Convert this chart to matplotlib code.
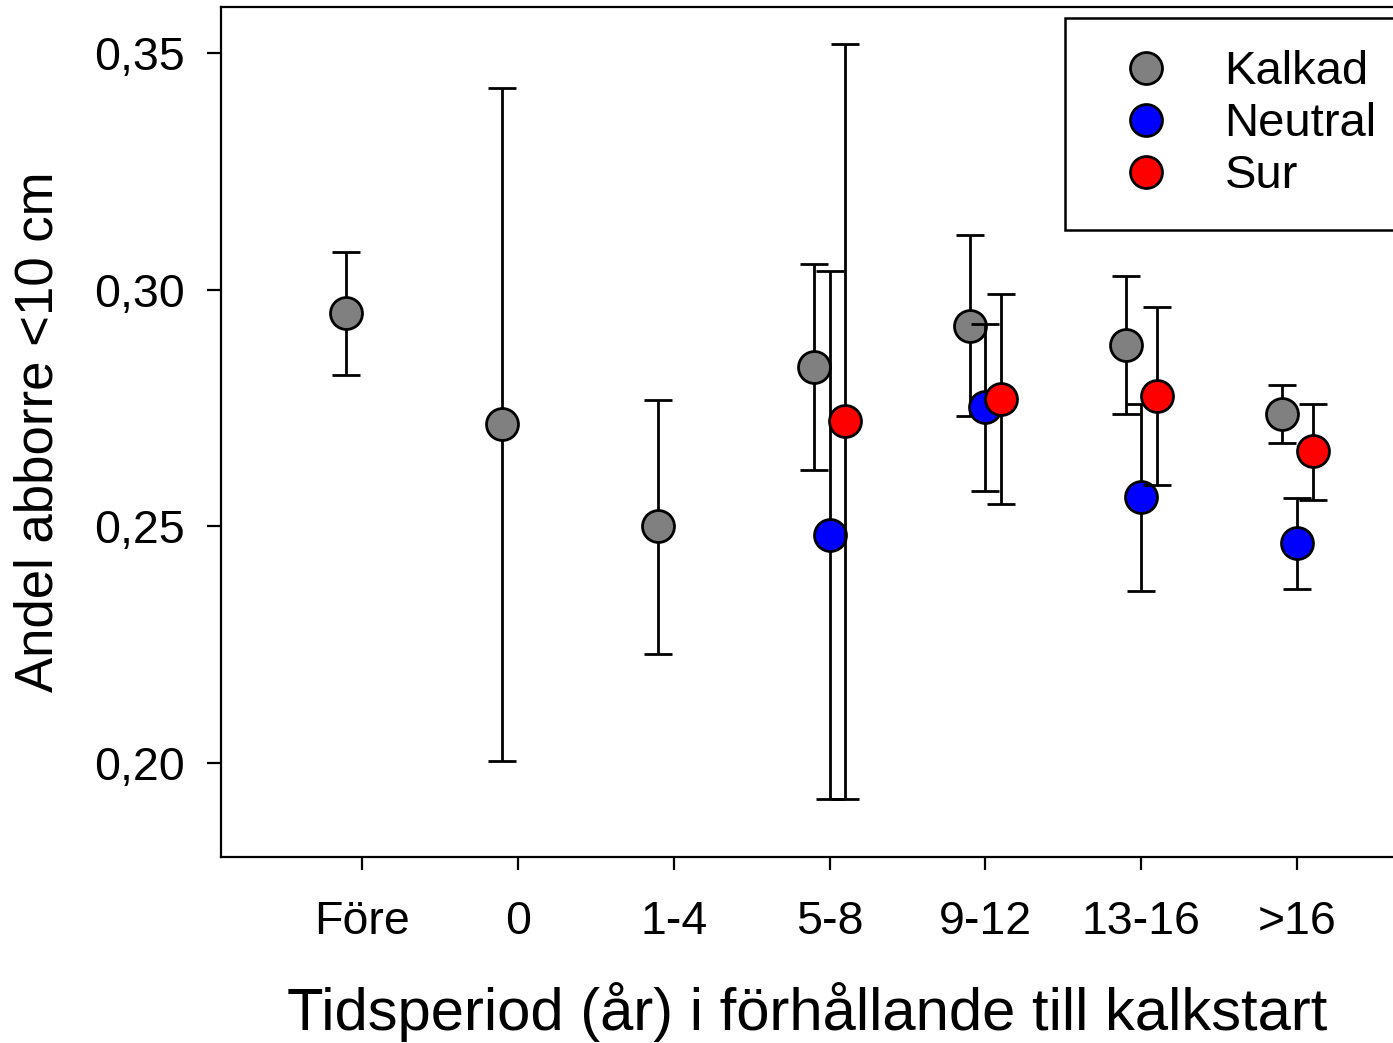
import matplotlib
matplotlib.use("Agg")
import matplotlib.pyplot as plt
from matplotlib.lines import Line2D
import numpy as np

plt.rcParams['font.family'] = ['Liberation Sans', 'DejaVu Sans']

categories = ["Före", "0", "1-4", "5-8", "9-12", "13-16", ">16"]

kalkad_mean = [0.2951, 0.2716, 0.2501, 0.2837, 0.2924, 0.2883, 0.2738]
kalkad_upper = [0.3080, 0.3426, 0.2767, 0.3054, 0.3115, 0.3029, 0.2798]
kalkad_lower = [0.2820, 0.2004, 0.2230, 0.2619, 0.2732, 0.2737, 0.2676]

neutral_idx = [3, 4, 5, 6]
neutral_mean = [0.2482, 0.2751, 0.2561, 0.2464]
neutral_upper = [0.3040, 0.2927, 0.2758, 0.2560]
neutral_lower = [0.1924, 0.2575, 0.2362, 0.2367]

sur_idx = [3, 4, 5, 6]
sur_mean = [0.2723, 0.2769, 0.2776, 0.2658]
sur_upper = [0.3518, 0.2991, 0.2963, 0.2758]
sur_lower = [0.1924, 0.2547, 0.2587, 0.2555]

series_labels = ["Kalkad", "Neutral", "Sur"]
series_colors = ['#808080', '#0000ff', '#ff0000']

W, H = 1393, 1043
fig = plt.figure(figsize=(W / 100, H / 100), dpi=100)
left, right, top, bottom = 221, 1393, 7, 857
ax = fig.add_axes([left / W, 1 - bottom / H, (right - left) / W, (bottom - top) / H])

MS = 23

def plot_series(idx, mean, upper, lower, offset, color, z):
    x = np.array(idx, dtype=float) + offset
    mean = np.array(mean)
    yerr = [mean - np.array(lower), np.array(upper) - mean]
    ax.errorbar(x, mean, yerr=yerr, fmt='o', color='black', ecolor='black',
                elinewidth=2.0, capsize=10, capthick=2.0,
                markersize=MS, markerfacecolor=color, markeredgecolor='black',
                markeredgewidth=2.0, zorder=z)

plot_series(range(len(categories)), kalkad_mean, kalkad_upper, kalkad_lower, -0.1, series_colors[0], 3)
plot_series(neutral_idx, neutral_mean, neutral_upper, neutral_lower, 0.0, series_colors[1], 4)
plot_series(sur_idx, sur_mean, sur_upper, sur_lower, 0.1, series_colors[2], 5)

ax.set_xlim(-0.904, 6.615)
ax.set_ylim(0.1801, 0.3597)
ax.set_xticks(range(len(categories)))
ax.set_xticklabels(categories)
ax.set_yticks([0.20, 0.25, 0.30, 0.35])
ax.set_yticklabels(["0,20", "0,25", "0,30", "0,35"])

for s in ['left', 'bottom', 'top']:
    ax.spines[s].set_linewidth(1.6)
ax.spines['right'].set_visible(False)
ax.tick_params(axis='x', direction='out', length=9, width=1.6, labelsize=33.5, pad=22)
ax.tick_params(axis='y', direction='out', length=10, width=1.6, labelsize=33.5, pad=16)

ax.set_xlabel("Tidsperiod (år) i förhållande till kalkstart", fontsize=43, labelpad=27)
ax.set_ylabel("Andel abborre <10 cm", fontsize=38, labelpad=22)

handles = [Line2D([], [], linestyle='none', marker='o', markersize=MS,
                  markerfacecolor=c, markeredgecolor='black', markeredgewidth=2.0)
           for c in series_colors]
leg = ax.legend(handles, series_labels, loc='upper left',
                bbox_to_anchor=(1065 / W, 1 - 18 / H),
                bbox_transform=fig.transFigure, fontsize=34, frameon=True,
                fancybox=False, borderpad=0.68, handletextpad=0.62,
                labelspacing=0.17, handlelength=2.08, borderaxespad=0)
leg.get_frame().set_edgecolor('black')
leg.get_frame().set_linewidth(1.8)
leg.get_frame().set_alpha(1)

fig.savefig("out.png", dpi=100)
